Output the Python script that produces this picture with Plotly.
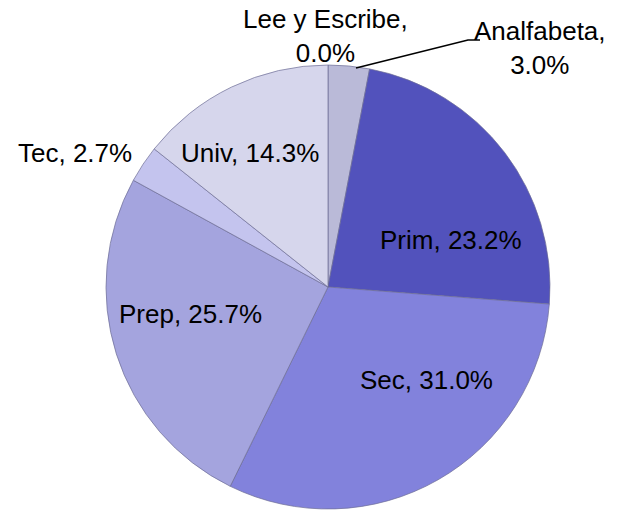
import plotly.graph_objects as go

labels = ["Lee y Escribe", "Analfabeta", "Prim", "Sec", "Prep", "Tec", "Univ"]
values = [0.0, 3.0, 23.2, 31.0, 25.7, 2.7, 14.3]
colors = ["#C8C8E4", "#BABAD8", "#5252BC", "#8282DC", "#A4A4DE", "#C4C4EE", "#D6D6EC"]

W, H = 618, 512
cx, cy, r = 328, 287, 222

fig = go.Figure(go.Pie(
    labels=labels, values=values, sort=False, direction="clockwise", rotation=0,
    marker=dict(colors=colors, line=dict(color="rgba(110,110,150,0.7)", width=1)),
    textinfo="none", hoverinfo="label+percent", showlegend=False,
    domain=dict(x=[(cx - r) / W, (cx + r) / W], y=[1 - (cy + r) / H, 1 - (cy - r) / H]),
))

# label centres (pixels) for each category, in the order of `labels`
label_pos = [(325, 36), (540, 48), (451, 240), (426, 380), (190, 314), (75, 153), (250, 153)]
two_line = {"Lee y Escribe", "Analfabeta"}

for lab, val, (px, py) in zip(labels, values, label_pos):
    sep = ",<br>" if lab in two_line else ", "
    fig.add_annotation(
        x=px / W, y=1 - py / H, xref="paper", yref="paper",
        text=f"{lab}{sep}{val:.1f}%", showarrow=False,
        font=dict(family="Liberation Sans, Arial", size=26, color="#000"),
        xanchor="center", yanchor="middle",
    )

def P(x, y):
    return f"{x / W} {1 - y / H}"

fig.add_shape(type="path", xref="paper", yref="paper",
              path=f"M {P(356, 68)} L {P(468, 40)} L {P(480, 40)}",
              line=dict(color="#000", width=1.5))

fig.update_layout(
    width=W, height=H, margin=dict(l=0, r=0, t=0, b=0),
    paper_bgcolor="white", plot_bgcolor="white",
)
fig.write_html("out.html", config={"displayModeBar": False},
               post_script="document.body.style.margin='0px';")
